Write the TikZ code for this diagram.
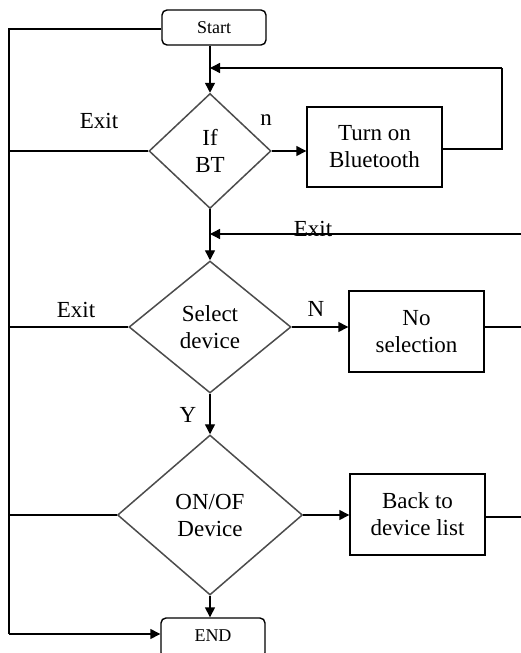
\documentclass[tikz,border=0pt]{standalone}
\usepackage{fontspec}
\setmainfont{Liberation Serif}
\usetikzlibrary{shapes.geometric,arrows.meta}
\begin{document}
\begin{tikzpicture}[x=1pt,y=-1pt,
  line width=1.4pt,
  every node/.style={font=\fontsize{23}{27}\selectfont},
  term/.style={draw, rounded corners=5pt, minimum width=104pt, minimum height=35pt, inner sep=0pt, font=\fontsize{18}{20}\selectfont},
  proc/.style={draw, minimum width=135pt, minimum height=80pt, inner sep=0pt, align=center},
  dec/.style={draw=black!70, line width=1.5pt, diamond, inner sep=0pt, align=center},
  arr/.style={-{Triangle[length=10pt,width=10pt]}},
  lbl/.style={inner sep=0pt}
]
\useasboundingbox (0,0) rectangle (521,653);
\clip (0,0) rectangle (521,653);
\fill[white] (0,0) rectangle (521,653);

\node[term] (start) at (214,27.5) {Start};
\node[term, minimum height=40pt] (end) at (213,638) {\raisebox{4pt}{END}};

\node[dec, minimum width=122pt, minimum height=115pt] (ifbt) at (210,151) {If\\BT};
\node[proc] (tob) at (374.5,147) {Turn on\\Bluetooth};

\node[dec, minimum width=162pt, minimum height=132pt] (sel) at (210,327) {Select\\device};
\node[proc, minimum height=81pt] (nosel) at (416.5,331.5) {No\\selection};

\node[dec, minimum width=185pt, minimum height=160pt] (onoff) at (210,515) {ON/OF\\Device};
\node[proc, minimum height=81pt] (back) at (417.5,514.5) {Back to\\device list};

% junction / free-end coordinates
\coordinate (l0) at (9,29);
\coordinate (l1) at (9,152);
\coordinate (l2) at (9,327);
\coordinate (l3) at (9,514);
\coordinate (l4) at (9,634);
\coordinate (j1) at (210,68);
\coordinate (r1) at (502,149);
\coordinate (r1t) at (502,68);
\coordinate (j2) at (210,234);
\coordinate (e2) at (521,234);
\coordinate (e3) at (521,327);
\coordinate (e4) at (521,517);

% left exit bus
\draw (start.west |- l0) -- (l0) -- (l4);
\draw[arr] (l4) -- (end.west |- l4);
\draw (ifbt.west) -- (ifbt.west -| l1);
\draw (sel.west) -- (sel.west -| l2);
\draw (onoff.west) -- (onoff.west -| l3);

% main flow
\draw[arr] (start.south -| ifbt.north) -- (ifbt.north);
\draw[arr] (ifbt.east) -- (ifbt.east -| tob.west);
\draw (tob.east |- r1) -- (r1) -- (r1t);
\draw[arr] (r1t) -- (j1);
\draw[arr] (ifbt.south) -- (sel.north);
\draw[arr] (e2) -- (j2);
\draw[arr] (sel.east) -- (sel.east -| nosel.west);
\draw (nosel.east |- e3) -- (e3);
\draw[arr] (sel.south) -- (onoff.north);
\draw[arr] (onoff.east) -- (onoff.east -| back.west);
\draw (back.east |- e4) -- (e4);
\draw[arr] (onoff.south) -- (onoff.south |- end.north);

% labels
\node[lbl] (x1) at (99,121) {Exit};
\node[lbl] (n1) at (266,120) {n};
\node[lbl] (x2) at (313,229) {Exit};
\node[lbl] (x3) at (76,310) {Exit};
\node[lbl] (n2) at (316,309) {N};
\node[lbl] (y1) at (188,415) {Y};
\end{tikzpicture}
\end{document}
